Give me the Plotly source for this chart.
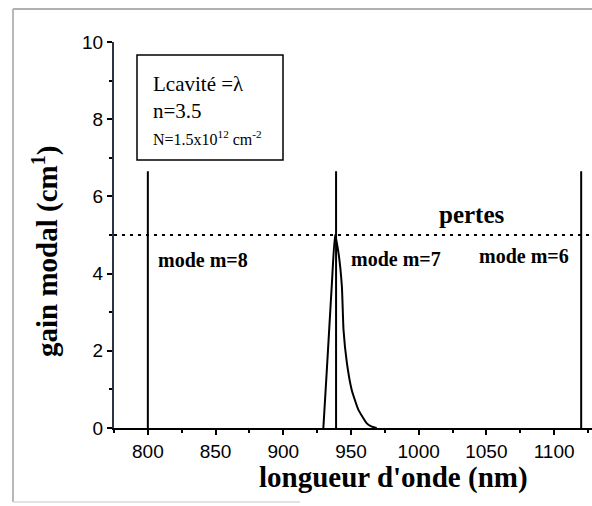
import plotly.graph_objects as go

# Modal gain spectrum of the active region (nm, cm^-1)
wavelength_nm = [929.6, 932.0, 934.0, 936.0, 938.2, 940.8, 943.3, 944.5, 947.0,
                 950.6, 955.5, 961.7, 965.0, 969.0]
gain_cm = [0.0, 1.4, 2.6, 3.8, 5.0, 4.53, 3.66, 2.54, 1.68,
           0.98, 0.47, 0.12, 0.04, 0.0]

# Cavity resonances (wavelength of each longitudinal mode)
mode_labels = ["mode m=8", "mode m=7", "mode m=6"]
mode_wavelength_nm = [800, 939, 1120]
mode_line_height = 6.65

# Losses level
losses_cm = 5.0

x_ticks = [800, 850, 900, 950, 1000, 1050, 1100]
y_ticks = [0, 2, 4, 6, 8, 10]

W, H = 592, 506
ML, MR, MT, MB = 114, 0, 42, 78
X_RANGE = [775, 1128]
Y_RANGE = [0, 10]

SERIF = "Liberation Serif"
SANS = "Liberation Sans"


def px_x(px):
    return (px - ML) / (W - ML - MR)


def px_y(py):
    return (H - MB - py) / (H - MT - MB)


fig = go.Figure()

# vertical resonance lines
for lam in mode_wavelength_nm:
    fig.add_trace(go.Scatter(
        x=[lam, lam], y=[0, mode_line_height], mode="lines",
        line=dict(color="black", width=2), showlegend=False, hoverinfo="skip"))

# gain curve
fig.add_trace(go.Scatter(
    x=wavelength_nm, y=gain_cm, mode="lines",
    line=dict(color="black", width=2, shape="spline", smoothing=0.4),
    showlegend=False))

# losses (dotted horizontal)
fig.add_trace(go.Scatter(
    x=[X_RANGE[0], X_RANGE[1]], y=[losses_cm, losses_cm], mode="lines",
    line=dict(color="black", width=2, dash="3px,5px"), showlegend=False,
    hoverinfo="skip"))

shapes = [
    # parameter box
    dict(type="rect", xref="paper", yref="paper",
         x0=px_x(137), x1=px_x(283), y0=px_y(160), y1=px_y(55),
         line=dict(color="black", width=1.5), fillcolor="white", layer="above"),
    # outer frame
    dict(type="line", xref="paper", yref="paper",
         x0=px_x(13), x1=px_x(13), y0=px_y(9), y1=px_y(502),
         line=dict(color="#b8b8b8", width=2)),
    dict(type="line", xref="paper", yref="paper",
         x0=px_x(13), x1=px_x(600), y0=px_y(9), y1=px_y(9),
         line=dict(color="#b0b0b0", width=2)),
    dict(type="line", xref="paper", yref="paper",
         x0=px_x(13), x1=px_x(300), y0=px_y(502), y1=px_y(502),
         line=dict(color="#d8d8d8", width=1.5)),
]

annotations = [
    dict(text="Lcavité =λ", xref="paper", yref="paper", x=px_x(151), y=px_y(84),
         xanchor="left", yanchor="middle", showarrow=False,
         font=dict(family=SERIF, size=21, color="black")),
    dict(text="n=3.5", xref="paper", yref="paper", x=px_x(151), y=px_y(111),
         xanchor="left", yanchor="middle", showarrow=False,
         font=dict(family=SERIF, size=21, color="black")),
    dict(text="N=1.5x10<sup>12</sup> cm<sup>-2</sup>", xref="paper", yref="paper",
         x=px_x(151), y=px_y(138), xanchor="left", yanchor="middle", showarrow=False,
         font=dict(family=SERIF, size=16, color="black")),
    dict(text="<b>pertes</b>", xref="paper", yref="paper", x=px_x(472), y=px_y(214),
         xanchor="center", yanchor="middle", showarrow=False,
         font=dict(family=SERIF, size=25, color="black")),
    dict(text="<b>longueur d'onde (nm)</b>", xref="paper", yref="paper",
         x=px_x(393), y=px_y(477), xanchor="center", yanchor="middle", showarrow=False,
         font=dict(family=SERIF, size=29, color="black")),
    dict(text="<b>gain modal (cm<sup>1</sup>)</b>", xref="paper", yref="paper",
         x=px_x(46), y=px_y(251), xanchor="center", yanchor="middle", showarrow=False,
         textangle=-90, font=dict(family=SERIF, size=29, color="black")),
]

# mode labels
mode_label_px = [(156, 260), (349, 259), (477, 256)]
for label, (lx, ly) in zip(mode_labels, mode_label_px):
    annotations.append(dict(
        text="<b>" + label + "</b>", xref="paper", yref="paper",
        x=px_x(lx), y=px_y(ly), xanchor="left", yanchor="middle", showarrow=False,
        font=dict(family=SERIF, size=20, color="black")))

fig.update_layout(
    width=W, height=H,
    margin=dict(l=ML, r=MR, t=MT, b=MB, pad=0),
    paper_bgcolor="white", plot_bgcolor="white",
    shapes=shapes, annotations=annotations,
    xaxis=dict(
        range=X_RANGE, tickvals=x_ticks, ticktext=[str(v) for v in x_ticks],
        showgrid=False, zeroline=False, showline=True, linecolor="black", linewidth=2,
        ticks="outside", ticklen=5, tickwidth=1.5, tickcolor="black",
        tickfont=dict(family=SANS, size=19, color="black"),
        minor=dict(dtick=50, tick0=825, ticks="outside", ticklen=3, tickwidth=1.5,
                   tickcolor="black", showgrid=False),
    ),
    yaxis=dict(
        range=Y_RANGE, tickvals=y_ticks, ticktext=[str(v) for v in y_ticks],
        showgrid=False, zeroline=False, showline=True, linecolor="#2b3440", linewidth=2,
        ticks="outside", ticklen=5, tickwidth=1.5, tickcolor="black",
        tickfont=dict(family=SANS, size=19, color="black"),
        minor=dict(dtick=2, tick0=1, ticks="outside", ticklen=3, tickwidth=1.5,
                   tickcolor="black", showgrid=False),
    ),
)

fig.write_html("out.html")
